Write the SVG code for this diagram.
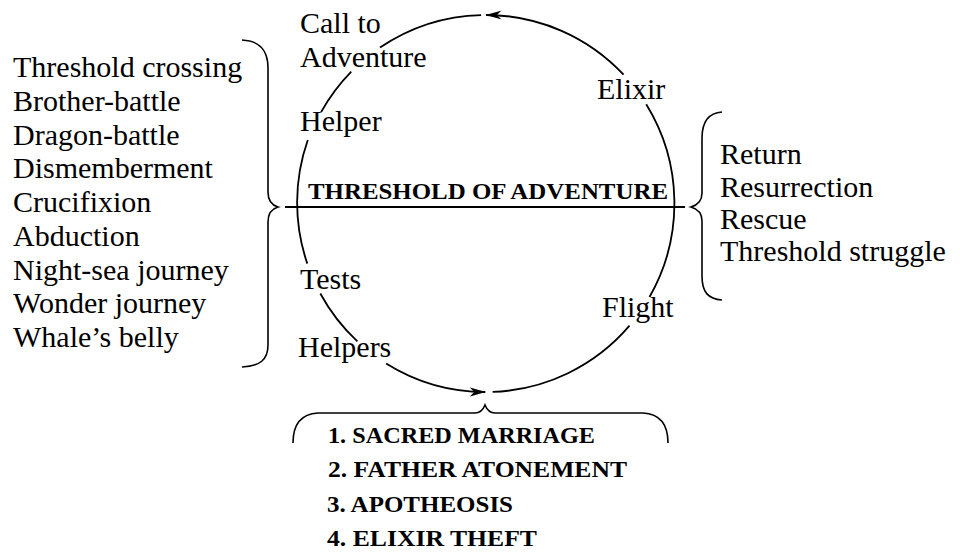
<svg xmlns="http://www.w3.org/2000/svg" width="960" height="554" viewBox="0 0 960 554">
<defs>
<marker id="arrow" markerUnits="userSpaceOnUse" viewBox="0 0 16 10" refX="15.5" refY="5" markerWidth="16" markerHeight="10" orient="auto">
<path d="M0,0.5 L16,5 L0,9.5 L4.5,5 Z" fill="#000"/>
</marker>
<style>
.lbl{font-family:"Liberation Serif","Times New Roman",serif;font-size:30px;fill:#000}
.caps{font-family:"Liberation Serif","Times New Roman",serif;font-weight:bold;font-size:23px;fill:#000}
.arc{fill:none;stroke:#000;stroke-width:1.8}
.brace{fill:none;stroke:#000;stroke-width:1.6}
</style>
</defs>
<rect width="960" height="554" fill="#fff"/>

<g id="connectors">
  <path class="arc" d="M623.6,74.7 A188.5,188.5 0 0 0 486,15" marker-end="url(#arrow)"/>
  <path class="arc" d="M481.1,15.1 A188.5,188.5 0 0 0 380,47.6"/>
  <path class="arc" d="M351.3,71.6 A188.5,188.5 0 0 0 321.1,112.1"/>
  <path class="arc" d="M307.8,140 A188.5,188.5 0 0 0 307.3,263.6"/>
  <path class="arc" d="M320.3,293.5 A188.5,188.5 0 0 0 357.4,341.4"/>
  <path class="arc" d="M386.1,363.4 A188.5,188.5 0 0 0 485.3,392" marker-end="url(#arrow)"/>
  <path class="arc" d="M492.6,391.9 A188.5,188.5 0 0 0 629.5,325.7"/>
  <path class="arc" d="M649.5,297 A188.5,188.5 0 0 0 646.2,104.2"/>
  <path d="M285,207 H685" fill="none" stroke="#000" stroke-width="2"/>
  <path class="brace" d="M242,40 C260,41 268,50 268,68 L268,192 C268,200 271,205 278,207 C271,209 268,214 268,222 L268,345 C268,360 260,366 242,367"/>
  <path class="brace" d="M722,112 C708,113 702,122 702,138 L702,193 C702,200 698,205 691,207 C698,209 702,214 702,221 L702,276 C702,292 708,299 722,300"/>
  <path class="brace" d="M293,443 C293,425 300,414 318,413 L475,413 C480,413 483,410 485,405 C487,410 490,413 495,413 L643,413 C661,414 668,425 668,443"/>
</g>

<g id="call-to-adventure"><text class="lbl" x="300" y="33">Call to</text><text class="lbl" x="300" y="67">Adventure</text></g>
<g id="helper"><text class="lbl" x="300" y="131">Helper</text></g>
<g id="elixir"><text class="lbl" x="597" y="99">Elixir</text></g>
<g id="threshold"><text class="caps" x="308" y="199" textLength="360" lengthAdjust="spacingAndGlyphs">THRESHOLD OF ADVENTURE</text></g>
<g id="tests"><text class="lbl" x="300" y="289">Tests</text></g>
<g id="helpers"><text class="lbl" x="298" y="357">Helpers</text></g>
<g id="flight"><text class="lbl" x="602" y="317">Flight</text></g>

<g id="left-list">
  <text class="lbl" x="13" y="77">Threshold crossing</text>
  <text class="lbl" x="13" y="111">Brother-battle</text>
  <text class="lbl" x="13" y="145">Dragon-battle</text>
  <text class="lbl" x="13" y="178">Dismemberment</text>
  <text class="lbl" x="13" y="212">Crucifixion</text>
  <text class="lbl" x="13" y="246">Abduction</text>
  <text class="lbl" x="13" y="280">Night-sea journey</text>
  <text class="lbl" x="13" y="313">Wonder journey</text>
  <text class="lbl" x="13" y="347">Whale’s belly</text>
</g>

<g id="right-list">
  <text class="lbl" x="720" y="164">Return</text>
  <text class="lbl" x="720" y="197">Resurrection</text>
  <text class="lbl" x="720" y="229">Rescue</text>
  <text class="lbl" x="720" y="261">Threshold struggle</text>
</g>

<g id="bottom-list">
  <text class="caps" x="328" y="443" textLength="267" lengthAdjust="spacingAndGlyphs">1. SACRED MARRIAGE</text>
  <text class="caps" x="328" y="477" textLength="299" lengthAdjust="spacingAndGlyphs">2. FATHER ATONEMENT</text>
  <text class="caps" x="327" y="512" textLength="186" lengthAdjust="spacingAndGlyphs">3. APOTHEOSIS</text>
  <text class="caps" x="327" y="546" textLength="210" lengthAdjust="spacingAndGlyphs">4. ELIXIR THEFT</text>
</g>
</svg>
